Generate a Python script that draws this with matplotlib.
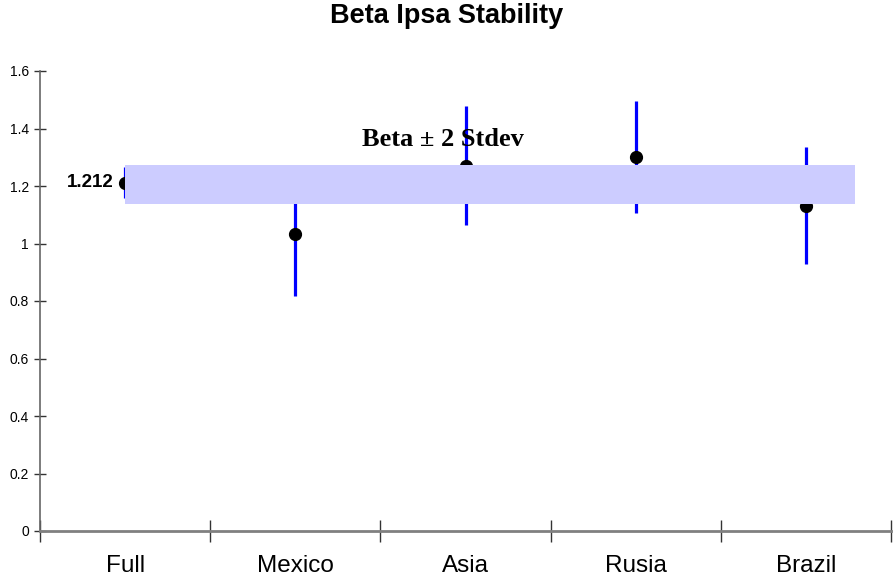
import matplotlib
matplotlib.use("Agg")
import matplotlib.pyplot as plt
from matplotlib.ticker import FixedLocator, NullFormatter

categories = ["Full", "Mexico", "Asia", "Rusia", "Brazil"]
beta = [1.212, 1.032, 1.270, 1.300, 1.132]
two_stdev = [0.054, 0.214, 0.207, 0.195, 0.205]
band_low, band_high = 1.138, 1.273
band_x = [0.0, 4.29]
yticks = [0, 0.2, 0.4, 0.6, 0.8, 1.0, 1.2, 1.4, 1.6]
ytick_labels = ["0", "0.2", "0.4", "0.6", "0.8", "1", "1.2", "1.4", "1.6"]

plt.rcParams['font.family'] = ['Liberation Sans', 'DejaVu Sans']

fig = plt.figure(figsize=(8.93, 5.83), dpi=100)
ax = fig.add_axes([40/893, 52/583, 851/893, 460/583])

x = list(range(len(categories)))
ax.errorbar(x, beta, yerr=two_stdev, fmt='o', color='black', markersize=8.5,
            ecolor='#0000FF', elinewidth=2.3, capsize=0, zorder=2)

ax.fill_between(band_x, band_low, band_high, color='#CCCCFF', linewidth=0, zorder=3)

ax.text(-0.07, beta[0], f"{beta[0]:.3f}", ha='right', va='center',
        fontsize=13.5, fontweight='bold', zorder=4)
ax.text(1.87, 1.36, "Beta \u00b1 2 Stdev", ha='center', va='center',
        fontsize=19, fontweight='bold', family=['Liberation Serif', 'DejaVu Serif'], zorder=4)

ax.set_xlim(-0.5, 4.5)
ax.set_ylim(0, 1.6)

ax.set_yticks(yticks)
ax.set_yticklabels(ytick_labels)
ax.tick_params(axis='y', direction='inout', length=8, width=1, colors='#333333',
               labelsize=10, pad=4, labelcolor='black')

ax.xaxis.set_major_locator(FixedLocator([i - 0.5 for i in range(len(categories) + 1)]))
ax.xaxis.set_major_formatter(NullFormatter())
ax.xaxis.set_minor_locator(FixedLocator(x))
ax.set_xticklabels(categories, minor=True)
ax.tick_params(axis='x', which='major', direction='inout', length=16, width=1, colors='#333333')
ax.tick_params(axis='x', which='minor', length=0, labelsize=17.5, pad=17, labelcolor='black')

for s in ['top', 'right']:
    ax.spines[s].set_visible(False)
ax.spines['left'].set_color('#666666')
ax.spines['left'].set_linewidth(1.2)
ax.spines['bottom'].set_color('#808080')
ax.spines['bottom'].set_linewidth(2)

fig.text(0.5, 1 - 16/583, "Beta Ipsa Stability", ha='center', va='center',
         fontsize=19.5, fontweight='bold')

fig.savefig("out.png", dpi=100)
